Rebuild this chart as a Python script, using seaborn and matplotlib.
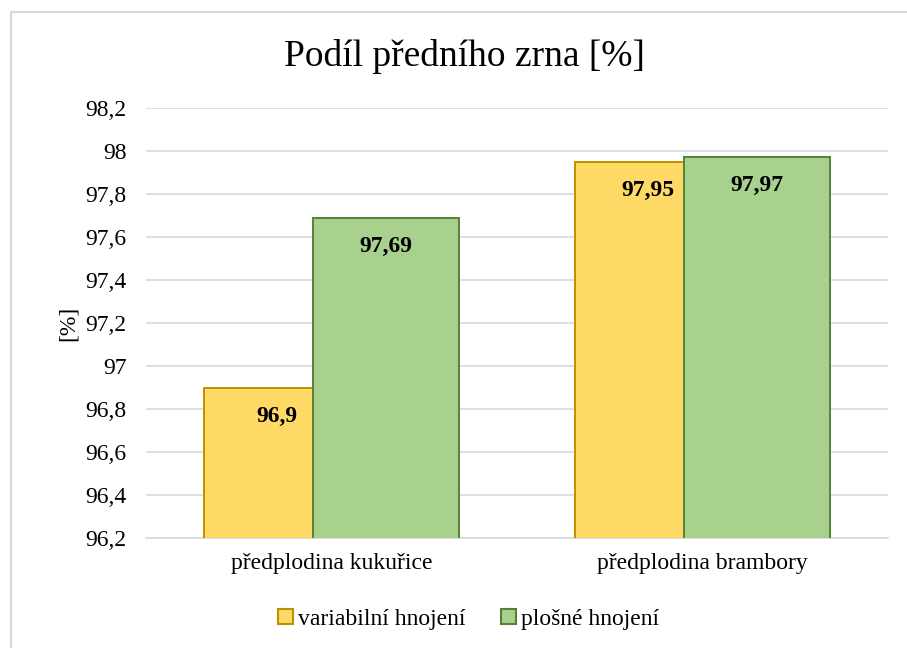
import matplotlib
matplotlib.use("Agg")
import matplotlib.pyplot as plt
import seaborn as sns
import pandas as pd
from matplotlib.patches import Rectangle, Patch

categories = ["předplodina kukuřice", "předplodina brambory"]
series_names = ["variabilní hnojení", "plošné hnojení"]
variabilni = [96.9, 97.95]
plosne = [97.69, 97.97]
label_texts_var = ["96,9", "97,95"]
label_texts_plo = ["97,69", "97,97"]
yticks = [96.2, 96.4, 96.6, 96.8, 97.0, 97.2, 97.4, 97.6, 97.8, 98.0, 98.2]
ytick_labels = ["96,2", "96,4", "96,6", "96,8", "97", "97,2", "97,4", "97,6", "97,8", "98", "98,2"]

df = pd.DataFrame({
    "cat": categories * 2,
    "series": [series_names[0]] * 2 + [series_names[1]] * 2,
    "value": variabilni + plosne,
})

sns.set_style("white")
plt.rcParams['font.family'] = ['Liberation Serif', 'DejaVu Serif']
plt.rcParams['text.color'] = 'black'
plt.rcParams['xtick.color'] = 'black'
plt.rcParams['ytick.color'] = 'black'
plt.rcParams['axes.labelcolor'] = 'black'

fills = ["#FFD966", "#A9D18E"]
edges = ["#BF9000", "#548235"]

fig = plt.figure(figsize=(9.07, 6.48), dpi=100)
W, H = 907, 648
ax = fig.add_axes([146 / W, 1 - 538 / H, (888 - 146) / W, (538 - 108) / H])

sns.barplot(data=df, x="cat", y="value", hue="series", order=categories,
            hue_order=series_names, palette=fills, saturation=1, width=0.787,
            dodge=True, ax=ax, legend=False)

bw = 146 / 371.0
for i, p in enumerate(ax.patches):
    s = 0 if i < 2 else 1
    c = i % 2
    center = c + (-0.147 if s == 0 else 0.147)
    p.set_edgecolor(edges[s])
    p.set_linewidth(1.4)
    p.set_x(center - bw / 2)
    p.set_width(bw)
    p.set_zorder(3 + s)

vals = [variabilni, plosne]
txts = [label_texts_var, label_texts_plo]
for s in range(2):
    for c in range(2):
        center = c + (-0.147 if s == 0 else 0.147)
        ax.annotate(txts[s][c], xy=(center, vals[s][c]), xytext=(0, -20.5),
                    textcoords="offset points", ha="center", va="center",
                    fontsize=17, fontweight="bold", color="black", zorder=6)

ax.set_xlim(-0.5, 1.5)
ax.set_ylim(96.2, 98.2)
ax.set_yticks(yticks)
ax.set_yticklabels(ytick_labels, fontsize=17)
ax.tick_params(axis="y", length=0, pad=14)
ax.tick_params(axis="x", length=0, pad=11, labelsize=17)
ax.set_xlabel("")
ax.set_ylabel("[%]", fontsize=17, labelpad=5)
ax.yaxis.grid(True, color="#D9D9D9", linewidth=1.2, zorder=0)
ax.set_axisbelow(True)
for sp in ["left", "right", "top"]:
    ax.spines[sp].set_visible(False)
ax.spines["bottom"].set_color("#D9D9D9")
ax.spines["bottom"].set_linewidth(1.2)
ax.set_facecolor("none")

fig.text(464 / W, 1 - 56 / H, "Podíl předního zrna [%]", ha="center", va="center", fontsize=27)

handles = [Patch(facecolor=fills[i], edgecolor=edges[i], linewidth=1.5) for i in range(2)]
fig.legend(handles, series_names, loc="center", bbox_to_anchor=(469 / W, 1 - 619 / H),
           ncol=2, frameon=False, fontsize=17, handlelength=0.6, handleheight=0.6,
           handletextpad=0.25, columnspacing=1.5)

border = Rectangle((11 / W, -0.1), 1.2, 1 - 12 / H + 0.1, transform=fig.transFigure,
                   fill=False, edgecolor="#D9D9D9", linewidth=1.5, zorder=0)
fig.patches.append(border)

fig.savefig("out.png", dpi=100, facecolor="white")
